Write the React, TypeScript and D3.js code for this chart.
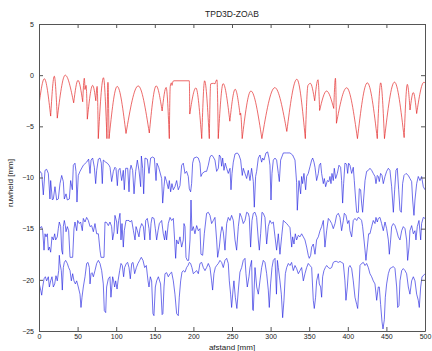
import React, { useEffect, useRef } from 'react';
import * as d3 from 'd3';

// red profile (top): [afstand, ruwheid]
const redProfile: [number, number][] = [
  [0, -2.9], [6.9, -0.35], [15.1, -4.0], [19.8, -0.1], [23.7, -4.2], [34, 0], [44.9, -2.7], [50.5, -0.5],
  [56.6, -2.6], [58.7, -0.3], [59.6, -1.4], [61, -1.0], [62.6, -4.3], [69.5, -1.0], [73.6, -2.5], [75.3, -1.1],
  [76.8, -6.2], [83.5, -0.25], [88, -6.2], [89.3, -0.7], [90.7, -6.2], [101.3, -1.1], [112.7, -5.7], [128.5, -1.05],
  [142.9, -5.65], [151.8, -1.05], [159.5, -3.5], [164.7, -1.2], [168.8, -6.2], [170, -1.1], [171.5, -0.75], [172.3, -1.0],
  [173.4, -0.65], [174.5, -0.55], [194.7, -0.55], [195.3, -3.8], [203.2, -1.25], [210.8, -6.2], [214.5, -0.55], [220.6, -6.2],
  [222.4, -0.85], [226, -0.8], [228, -0.85], [230.5, -0.45], [232.2, -6.2], [238.5, -0.83], [247.2, -4.5], [254.1, -1.38],
  [260.5, -3.9], [261, -3.7], [263.2, -6.2], [274.5, -1.55], [288.7, -6.2], [305.5, -1.22], [321, -5.5], [334, -0.4],
  [345, -6.2], [348.4, -1.0], [351.5, -0.8], [357.1, -2.5], [361.4, -0.45], [363.5, -3.45], [372.5, -1.55], [381.8, -3.25],
  [384, -0.3], [385.3, -4.7], [398.5, -1.23], [412.5, -6.2], [425.3, -0.75], [438.2, -6.2], [442.6, -0.75], [447.5, -6.2],
  [460.5, -0.68], [473, -6.1], [477.1, -0.9], [480.6, -3.4], [484.9, -1.7], [489.2, -3.75], [498.5, -0.7], [500, -0.75],
];

// blue profile around -10
const blueTop: [number, number][] = [
  [0, -9.9], [1.3, -9.4], [3.5, -9.6], [5.6, -11.7], [7.8, -9.3], [9.9, -9.2], [12.1, -9.6], [14.2, -12.1], [15.1, -10.3],
  [17.3, -12.2], [18.6, -12.1], [20.7, -10.9], [22.9, -12.2], [25, -12.1], [27.2, -10.6], [29.4, -9.8], [31.5, -10.4],
  [32.8, -12.1], [35, -11.6], [36.7, -12.2], [39.3, -12.1], [41, -10.3], [43.2, -11.2], [44.5, -8.8], [46.6, -8.6],
  [47.9, -9.4], [49.2, -12.4], [50.9, -9.8], [53.1, -9.4], [57.4, -8.8], [61.7, -8.5], [64.3, -8.2], [66.1, -9.6],
  [67.4, -8.3], [69.5, -8.1], [71.7, -9.0], [73.4, -10.6], [74.7, -9.3], [76.9, -8.2], [79, -8.1], [80.7, -8.6],
  [82, -10.6], [83.3, -8.3], [86.4, -8.5], [88.5, -8.6], [90.7, -8.8], [92, -9.0], [94.1, -10.4], [96.3, -9.4],
  [98.4, -9.0], [99.7, -9.1], [101.5, -10.8], [102.8, -9.3], [104.9, -9.1], [107.1, -10.3], [109.2, -9.3], [110.5, -11.2],
  [112.3, -9.1], [114.9, -9.1], [116.6, -11.4], [117.9, -9.3], [119.2, -8.8], [121.3, -9.3], [123.1, -11.6], [125.2, -9.4],
  [127.4, -8.3], [129.5, -9.3], [131.7, -10.9], [132.6, -7.9], [134.3, -9.1], [135.6, -11.6], [137.3, -8.1], [140.3, -8.2],
  [142.5, -9.6], [144.6, -8.1], [147.2, -8.0], [149.4, -8.1], [151.6, -10.3], [152.8, -8.6], [155, -9.0], [158.9, -10.1],
  [160.2, -12.5], [161.9, -10.9], [163.2, -9.9], [165.3, -10.4], [167.5, -11.1], [168.8, -10.3], [170.5, -11.4], [172.2, -10.6],
  [174, -11.2], [176.1, -10.9], [178.3, -10.3], [180.4, -11.2], [182.6, -10.8], [184.8, -8.8], [186.9, -8.6], [189.1, -9.6],
  [191.2, -9.4], [193.4, -9.9], [194.7, -11.1], [196.4, -11.4], [197.7, -10.6], [199, -8.6], [200.7, -8.1], [204.2, -8.0],
  [206.4, -8.1], [208.5, -8.6], [209.8, -9.9], [211.5, -9.6], [215, -9.4], [217.1, -9.4], [219.3, -8.8], [221.5, -8.0],
  [223.6, -7.8], [225.8, -8.0], [227.9, -8.3], [230.1, -9.4], [232.3, -9.1], [233.6, -7.8], [235.3, -8.0], [236.6, -8.9],
  [237.9, -8.1], [239.6, -9.3], [241.3, -8.6], [243.1, -9.1], [245.2, -9.6], [247.4, -9.1], [248.7, -11.2], [250, -9.6],
  [251.7, -8.5], [253.9, -7.7], [256.9, -7.6], [259, -7.8], [261.2, -8.3], [263.3, -9.8], [264.6, -9.1], [266.8, -9.6],
  [269, -10.1], [271.1, -9.3], [273.3, -10.3], [275.4, -9.1], [277.6, -10.4], [278.9, -12.9], [280.6, -9.9], [281.9, -9.4],
  [284.1, -8.1], [286.2, -7.8], [288.4, -8.5], [289.7, -8.1], [291.4, -8.3], [294, -7.6], [296.2, -7.5], [297.9, -8.1],
  [299.2, -8.8], [300.5, -12.2], [301.8, -9.6], [303.5, -8.3], [305.7, -8.1], [307.8, -8.3], [310, -9.6], [311.3, -10.4],
  [313, -8.3], [316.5, -7.6], [320.8, -7.6], [325.1, -7.6], [328.5, -7.8], [331.6, -8.3], [333.7, -10.5], [334.6, -13.2],
  [336.8, -10.3], [338.9, -11.6], [340.2, -9.9], [341.5, -10.6], [343.2, -9.6], [345.4, -11.2], [346.7, -9.9], [348.8, -9.6],
  [351, -8.95], [353.2, -8.3], [354.5, -8.1], [356.2, -8.5], [357.5, -9.0], [359.6, -10.3], [361.8, -9.6], [363.1, -8.8],
  [364.8, -8.6], [366.1, -9.6], [368.3, -10.6], [369.6, -10.1], [371.3, -10.9], [373.5, -10.3], [375.6, -10.4], [376.9, -9.9],
  [378.2, -10.6], [379.5, -9.6], [381.2, -10.3], [382.5, -9.1], [384.3, -10.1], [386.4, -9.6], [388.6, -8.8], [390.7, -9.0],
  [392, -10.3], [393.3, -12.5], [394.6, -10.6], [396.3, -8.6], [398.5, -8.7], [399.8, -9.6], [401.1, -8.6], [402.8, -8.8],
  [405, -9.6], [407.1, -9.0], [408.4, -10.3], [410.2, -12.2], [411.5, -13.4], [413.6, -13.4], [414.9, -11.1], [416.6, -11.2],
  [417.9, -12.5], [419.2, -13.4], [422.3, -10.3], [424.4, -9.4], [426.6, -9.3], [428.7, -9.1], [430.9, -9.3], [433, -9.6],
  [435.2, -9.9], [436.5, -10.6], [438.2, -9.8], [439.5, -9.9], [440.8, -10.4], [442.5, -9.6], [444.3, -9.8], [446, -10.6],
  [448.2, -9.9], [450.3, -9.4], [452.5, -9.1], [454.6, -9.3], [456.8, -10.9], [459, -13.4], [460.7, -11.2], [462.4, -9.3],
  [464.1, -9.1], [465.9, -11.2], [467.6, -13.2], [469.3, -13.4], [471, -10.6], [472.8, -9.8], [475.4, -9.6], [478.4, -9.8],
  [480.5, -10.1], [482.7, -10.4], [484, -12.2], [485.7, -13.7], [487, -12.2], [489.2, -10.6], [491.3, -9.9], [493.5, -10.3],
  [495.6, -9.9], [497.8, -10.9], [500, -11.2],
];

// blue profile around -15
const blueMid: [number, number][] = [
  [0, -15], [1.3, -14.9], [3.5, -14.8], [4.8, -15.2], [6.5, -17.1], [7.8, -15.5], [9.1, -15.8], [10.8, -15.5], [12.1, -17.1],
  [13.4, -16.8], [15.1, -17.3], [16.8, -15.8], [18.6, -16.1], [20.3, -15.5], [21.6, -16.1], [23.7, -15.8], [25, -15.0],
  [26.3, -14.35], [28.1, -14.8], [29.4, -17.1], [30.7, -17.5], [31.5, -14.8], [32.8, -14.2], [34.1, -14.7], [35, -15.3],
  [36.7, -14.8], [38.4, -15.2], [40.2, -17.8], [43.6, -17.8], [45.3, -15.0], [46.6, -14.35], [48.8, -15.2], [50.1, -14.2],
  [52.2, -14.5], [53.9, -14.35], [56.1, -15.2], [57.4, -14.0], [59.6, -14.35], [61.7, -13.9], [63.9, -14.2], [66.1, -14.8],
  [68.2, -14.7], [70.4, -15.3], [72.5, -14.5], [74.7, -15.5], [76.9, -15.5], [79, -17.1], [80.3, -17.8], [84.2, -17.8],
  [85.5, -14.35], [87.6, -14.4], [89.8, -14.7], [91.9, -14.35], [94.1, -14.8], [95.4, -16.1], [97.2, -15.3], [98.4, -13.7],
  [100.6, -14.35], [101.5, -15.5], [103.2, -14.2], [104.9, -13.5], [106.2, -16.1], [107.5, -14.5], [109.2, -16.8], [110.5, -15.2],
  [112.7, -14.2], [114.4, -14.2], [116.6, -14.2], [117.9, -14.35], [120.1, -14.2], [122.3, -15.2], [124.4, -16.1], [125.7, -14.8],
  [127.4, -15.2], [129.5, -15.8], [130.8, -15.0], [133, -14.5], [135.2, -14.8], [136.9, -16.1], [138.2, -14.2], [140.3, -14.0],
  [142.5, -15.0], [143.8, -16.1], [145.1, -14.5], [146.4, -13.9], [149, -14.0], [150.7, -15.0], [152.4, -16.1], [154.2, -15.2],
  [155.9, -14.5], [158.9, -14.2], [161, -15.5], [162.7, -16.1], [164, -15.2], [165.3, -16.1], [167.5, -14.5], [169.7, -13.9],
  [171.8, -14.2], [174, -14.0], [175.7, -16.1], [177, -17.9], [178.3, -16.1], [180.4, -16.5], [182.6, -15.8], [184.8, -16.8],
  [186.9, -16.1], [187.8, -14.5], [189.1, -14.8], [190.4, -17.8], [192.1, -18.1], [193.8, -18.1], [195.6, -16.1], [196.9, -12.2],
  [198.1, -15.2], [199.9, -14.8], [202, -15.5], [204.2, -14.7], [206.4, -15.2], [208.5, -15.0], [209.8, -17.5], [212, -17.6],
  [214.1, -15.5], [217.1, -13.5], [219.3, -13.4], [221.5, -13.7], [223.6, -14.5], [225.8, -14.2], [227.9, -13.9], [230.1, -16.1],
  [231.4, -17.8], [233.6, -16.8], [235.3, -15.5], [237, -14.8], [238.7, -15.3], [240.9, -17.1], [243.1, -14.5], [245.2, -13.9],
  [247.4, -14.2], [249.5, -13.7], [251.7, -14.2], [253.9, -16.1], [256, -17.1], [258.2, -14.8], [260.3, -13.5], [262.5, -13.9],
  [264.6, -14.5], [266.8, -14.2], [269, -13.4], [271.1, -13.5], [272.4, -13.9], [274.1, -16.8], [275.9, -14.2], [277.6, -13.5],
  [279.8, -13.4], [281.9, -13.9], [284.1, -16.1], [285.4, -17.1], [287.1, -15.5], [288.8, -13.4], [290.5, -13.5], [292.7, -13.9],
  [294.9, -16.5], [297, -14.8], [299.2, -14.2], [301.4, -14.5], [303.5, -14.35], [305.7, -15.8], [307.8, -17.1], [310, -15.5],
  [312.1, -17.5], [314.3, -15.8], [316.5, -14.2], [318.6, -14.35], [320.8, -14.5], [323, -14.7], [325.1, -14.9], [327.3, -16.8],
  [328.6, -15.8], [330.3, -16.5], [332, -15.5], [333.7, -16.1], [335.9, -15.65], [338.1, -15.8], [340.2, -15.5], [342.4, -15.8],
  [344.5, -16.1], [346.7, -16.8], [348.8, -17.6], [350.1, -17.9], [351.9, -17.6], [353.2, -16.8], [355.3, -16.5], [357.5, -17.5],
  [359.6, -16.1], [361.8, -15.8], [364, -15.2], [366.1, -14.8], [368.3, -14.2], [370.4, -16.8], [372.6, -15.2], [374.8, -14.0],
  [376.9, -14.2], [379.1, -14.5], [381.2, -15.0], [383.4, -14.5], [385.5, -13.7], [387.7, -13.5], [389.9, -13.9], [392, -15.2],
  [394.2, -14.2], [395.5, -13.5], [397.6, -13.7], [399.8, -14.5], [401.5, -14.2], [402.8, -15.2], [405, -15.8], [407.1, -14.2],
  [409.3, -14.0], [411.5, -14.2], [413.6, -13.9], [415.8, -14.0], [417.9, -14.2], [419.2, -14.8], [421, -16.1], [422.3, -17.1],
  [423.5, -18.1], [425.3, -16.8], [427, -15.5], [428.7, -15.5], [430.9, -14.8], [433, -14.2], [435.2, -14.5], [436.5, -13.9],
  [438.2, -14.35], [439.5, -14.0], [441.7, -13.9], [443.8, -14.5], [446, -15.2], [448.2, -14.35], [450.3, -15.0], [452.5, -16.1],
  [453.8, -17.5], [455.5, -16.1], [456.8, -14.8], [459, -14.5], [461.1, -14.7], [463.3, -15.2], [465.4, -15.8], [467.6, -16.1],
  [469.8, -15.2], [471.9, -14.8], [474.1, -15.0], [476.2, -16.1], [477.5, -18.1], [479.3, -16.8], [480.5, -15.2], [482.7, -14.7],
  [484.9, -15.5], [487, -15.2], [488.3, -16.1], [490, -14.8], [492.2, -14.2], [494.4, -16.1], [495.6, -14.5], [497.8, -13.9],
  [500, -14.0],
];

// blue profile around -20
const blueLow: [number, number][] = [
  [0, -20.1], [0.4, -20.4], [2.2, -21.0], [3.5, -21.5], [4.8, -20.7], [6.5, -19.9], [8.2, -19.7], [9.9, -20.1], [12.1, -19.7],
  [13.4, -20.7], [15.1, -20.1], [16.8, -19.7], [18.6, -20.7], [20.3, -20.4], [22, -19.6], [23.7, -20.1], [25.5, -19.1],
  [26.3, -17.6], [27.2, -18.4], [28.9, -19.1], [30.2, -21.0], [31.5, -18.8], [32.8, -18.3], [34.5, -18.1], [36.7, -18.4],
  [38.4, -18.8], [40.2, -19.1], [41.9, -20.1], [43.6, -19.4], [45.3, -20.1], [47.1, -20.4], [48.8, -20.1], [50.9, -20.7],
  [53.1, -21.4], [54.4, -22.7], [55.7, -21.7], [57.4, -20.7], [59.6, -19.7], [61.7, -18.4], [63.5, -18.3], [65.2, -18.8],
  [66.1, -20.4], [67.4, -19.4], [68.7, -19.3], [70.4, -19.7], [72.5, -19.1], [74.7, -18.4], [76.9, -18.1], [79, -18.4],
  [81.2, -19.1], [83.3, -20.4], [84.6, -23.0], [86.4, -23.2], [87.6, -20.7], [89.8, -19.9], [91.9, -19.7], [93.2, -21.7],
  [95.4, -19.7], [96.7, -20.1], [98, -20.7], [99.3, -20.1], [101.1, -20.9], [102.4, -20.1], [104.5, -19.1], [106.2, -18.4],
  [107.9, -18.6], [109.6, -19.7], [110.9, -18.8], [113.1, -18.4], [114.8, -18.3], [116.6, -18.8], [118.3, -19.9], [120.1, -18.4],
  [121.8, -18.3], [123.9, -19.4], [126.1, -18.8], [128.2, -18.4], [130.4, -18.1], [132.5, -17.8], [134.7, -18.1], [136.9, -18.8],
  [139, -18.6], [141.2, -20.1], [142.5, -20.7], [144.2, -19.7], [145.9, -20.1], [147.6, -23.3], [148.9, -23.5], [150.7, -20.7],
  [152.4, -20.1], [154.6, -19.7], [157.5, -20.4], [159.5, -23.4], [160.5, -23.3], [161.9, -20.7], [163.2, -19.4], [165.3, -19.3],
  [167.5, -19.7], [169.7, -19.4], [171.8, -19.25], [174, -20.1], [176.1, -21.4], [178.3, -23.3], [180.4, -23.5], [181.7, -21.7],
  [183.5, -20.1], [185.2, -19.25], [186.9, -19.1], [189.1, -19.25], [191.2, -18.8], [193, -18.6], [194.7, -18.3], [196.4, -18.4],
  [198.1, -18.8], [199.9, -19.4], [202, -19.25], [204.2, -19.1], [206.4, -19.4], [208.5, -18.4], [210.7, -18.3], [212.8, -18.8],
  [215, -19.1], [217.1, -18.8], [219.3, -18.4], [221.5, -18.8], [223.6, -20.1], [224.9, -21.0], [226.6, -19.4], [228.4, -18.8],
  [230.1, -18.6], [232.3, -18.4], [234.4, -18.1], [236.6, -18.3], [238.7, -18.8], [240.9, -18.1], [243.1, -17.9], [245.2, -18.4],
  [246.5, -20.1], [248.2, -21.4], [249.5, -22.7], [251.3, -21.0], [252.5, -20.1], [254.3, -21.7], [256.3, -22.8], [258.2, -21.0],
  [260.3, -19.25], [262.5, -18.8], [264.6, -18.1], [266.8, -17.9], [268.1, -19.4], [269.8, -20.7], [272, -19.7], [273.3, -18.8],
  [275.4, -18.1], [276.8, -22.9], [277.6, -23.0], [279.8, -18.8], [282, -20.7], [284.1, -21.4], [286.2, -20.1], [288.4, -18.8],
  [290.5, -18.1], [292.7, -18.3], [294.9, -19.4], [297, -21.0], [298.3, -22.7], [300, -20.4], [301.8, -18.8], [303.5, -18.1],
  [305.7, -17.9], [307.6, -21.4], [308.8, -18.1], [310, -18.8], [312.1, -20.1], [313.9, -21.4], [315.6, -23.7], [317.3, -22.0],
  [319.1, -19.4], [320.8, -18.8], [323, -18.4], [325.1, -18.6], [327.2, -18.3], [329.4, -19.1], [331.6, -18.6], [333.7, -18.9],
  [335.9, -19.4], [338.1, -19.1], [340.2, -18.8], [342.4, -20.1], [344.5, -19.4], [346.7, -18.8], [348.8, -18.4], [351, -18.6],
  [353.2, -18.8], [355.3, -22.0], [356.6, -22.8], [358.3, -21.7], [359.6, -20.1], [361.8, -19.4], [363.1, -20.4], [364.8, -20.7],
  [366.1, -21.7], [367.4, -19.7], [369.1, -19.1], [370.9, -18.8], [372.6, -18.6], [374.8, -18.8], [376.9, -18.9], [379.1, -18.8],
  [381.2, -18.3], [383.4, -18.2], [385.5, -18.2], [387.7, -18.3], [389.9, -18.2], [392, -18.3], [394.2, -18.4], [396.3, -20.1],
  [397.6, -22.0], [399.4, -20.7], [401.1, -18.8], [402.8, -18.6], [405, -18.9], [407.1, -20.1], [409.3, -21.7], [411.5, -22.4],
  [412.8, -22.8], [414.5, -20.7], [415.8, -18.6], [417.9, -18.4], [420.1, -18.3], [422.3, -18.6], [424.4, -18.4], [426.6, -18.8],
  [428.7, -19.4], [430.9, -19.7], [433, -20.1], [435.2, -20.4], [437.4, -22.0], [439.5, -20.7], [440.8, -20.7], [442.5, -22.4],
  [444.3, -24.1], [445.6, -24.8], [447.3, -23.9], [448.6, -21.7], [450.3, -20.4], [452.5, -19.4], [454.6, -18.9], [456.8, -18.8],
  [459, -18.7], [461.1, -18.9], [463.3, -20.7], [464.6, -22.7], [466.3, -22.5], [467.6, -20.1], [469.8, -19.1], [471.9, -18.9],
  [474.1, -19.1], [476.2, -19.4], [478.4, -20.7], [480.5, -21.4], [482.7, -20.1], [484.9, -19.7], [487, -20.1], [489.2, -21.4],
  [491.3, -22.0], [492.6, -22.7], [494.4, -20.7], [496.1, -19.7], [497.8, -19.6], [500, -19.4],
];

const xTicks = [0, 50, 100, 150, 200, 250, 300, 350, 400, 450, 500];
const yTicks = [5, 0, -5, -10, -15, -20, -25];

function App() {
  const svgRef = useRef<SVGSVGElement>(null);

  useEffect(() => {
    const width = 432;
    const height = 351;
    const margin = { top: 24, right: 7, bottom: 20, left: 39 };
    const font = 'Liberation Sans, Arial, sans-serif';

    const svg = d3.select(svgRef.current);
    svg.selectAll('*').remove();
    svg.attr('width', width).attr('height', height);

    svg.append('rect').attr('width', width).attr('height', height).attr('fill', '#ffffff');

    const x = d3.scaleLinear().domain([0, 500]).range([margin.left, width - margin.right]);
    const y = d3.scaleLinear().domain([-25, 5]).range([height - margin.bottom, margin.top]);

    svg.append('clipPath').attr('id', 'plot-clip')
      .append('rect')
      .attr('x', x(0)).attr('y', y(5))
      .attr('width', x(500) - x(0)).attr('height', y(-25) - y(5));

    const plot = svg.append('g').attr('clip-path', 'url(#plot-clip)');

    // blue profiles
    const line = d3.line<[number, number]>().x(d => x(d[0])).y(d => y(d[1]));
    [blueTop, blueMid, blueLow].forEach(p => {
      plot.append('path')
        .attr('d', line(p))
        .attr('fill', 'none')
        .attr('stroke', '#2424e0')
        .attr('stroke-width', 0.65)
        .attr('stroke-linejoin', 'round');
    });

    // red envelope: split at the cusps so each arch is smoothed on its own
    const pieces: [number, number][][] = [];
    let cur: [number, number][] = [redProfile[0]];
    for (let i = 1; i < redProfile.length; i++) {
      cur.push(redProfile[i]);
      const isCusp = i < redProfile.length - 1
        && redProfile[i][1] < redProfile[i - 1][1]
        && redProfile[i][1] < redProfile[i + 1][1];
      if (isCusp) {
        pieces.push(cur);
        cur = [redProfile[i]];
      }
    }
    pieces.push(cur);
    const arch = d3.line<[number, number]>().x(d => x(d[0])).y(d => y(d[1])).curve(d3.curveMonotoneX);
    pieces.forEach(p => {
      plot.append('path')
        .attr('d', arch(p))
        .attr('fill', 'none')
        .attr('stroke', '#e42a2a')
        .attr('stroke-width', 0.7);
    });

    // axes, ticks pointing inwards on all four sides
    const axisColor = '#555555';
    const styleAxis = (g: any) => {
      g.select('.domain').attr('stroke', axisColor);
      g.selectAll('.tick line').attr('stroke', axisColor);
      g.selectAll('.tick text').attr('fill', '#222222').style('font-family', font).style('font-size', '7px');
    };

    svg.append('g')
      .attr('transform', `translate(0,${y(-25)})`)
      .call(d3.axisBottom(x).tickValues(xTicks).tickSize(-4).tickSizeOuter(0).tickPadding(3).tickFormat(d3.format('d')))
      .call(styleAxis);

    svg.append('g')
      .attr('transform', `translate(0,${y(5)})`)
      .call(d3.axisTop(x).tickValues(xTicks).tickSize(-4).tickSizeOuter(0).tickFormat(() => ''))
      .call(styleAxis);

    svg.append('g')
      .attr('transform', `translate(${x(0)},0)`)
      .call(d3.axisLeft(y).tickValues(yTicks).tickSize(-4).tickSizeOuter(0).tickPadding(5).tickFormat(d3.format('d')))
      .call(styleAxis);

    svg.append('g')
      .attr('transform', `translate(${x(500)},0)`)
      .call(d3.axisRight(y).tickValues(yTicks).tickSize(-4).tickSizeOuter(0).tickFormat(() => ''))
      .call(styleAxis);

    // title and labels
    svg.append('text')
      .attr('x', (x(0) + x(500)) / 2)
      .attr('y', 17)
      .attr('text-anchor', 'middle')
      .style('font-family', font)
      .style('font-size', '8.5px')
      .attr('fill', '#222222')
      .text('TPD3D-ZOAB');

    svg.append('text')
      .attr('x', (x(0) + x(500)) / 2)
      .attr('y', 350)
      .attr('text-anchor', 'middle')
      .style('font-family', font)
      .style('font-size', '8px')
      .attr('fill', '#222222')
      .text('afstand [mm]');

    svg.append('text')
      .attr('transform', `translate(13,${183}) rotate(-90)`)
      .attr('text-anchor', 'middle')
      .style('font-family', font)
      .style('font-size', '8px')
      .attr('fill', '#222222')
      .text('ruwheid [mm]');
  }, []);

  return (
    <svg ref={svgRef} style={{ position: 'absolute', left: 0, top: 0, display: 'block' }}></svg>
  );
}

export default App;
